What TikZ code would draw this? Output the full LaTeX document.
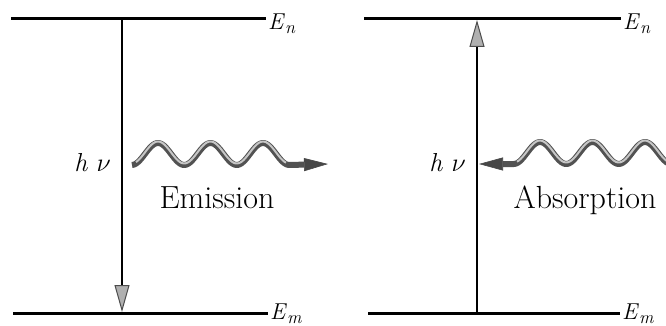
\RequirePackage{fix-cm}
\documentclass[tikz,border=0pt]{standalone}
\usetikzlibrary{arrows.meta}
\newcommand{\lvl}[2]{\textit{#1}\raisebox{-4pt}{\fontsize{18}{18}\selectfont\textit{#2}}}
\begin{document}
\begin{tikzpicture}[x=1pt,y=-1pt,
  level/.style={line width=3pt, line cap=butt},
  trans/.style={line width=2.8pt, -{Triangle[length=27pt,width=15pt,fill=gray!62,color=black!70,line width=1pt]}},
  wavebase/.style={line width=6pt, draw=black!68, line join=round,
     -{Triangle[length=24pt,width=13pt,fill=black!72,color=black!72,line width=0.6pt]}},
  wavebaserev/.style={line width=6pt, draw=black!68, line join=round,
     {Triangle[length=24pt,width=13pt,fill=black!72,color=black!72,line width=0.6pt]}-},
  waveshine/.style={line width=2pt, draw=gray!45, line join=round},
  elabel/.style={anchor=base west, inner sep=0pt, font=\fontsize{23}{23}\selectfont},
  hnu/.style={anchor=base east, inner sep=0pt, font=\fontsize{26}{26}\selectfont},
  word/.style={anchor=base, inner sep=0pt, font=\fontsize{32}{32}\selectfont}]
\useasboundingbox (0,0) rectangle (666,326);
\clip (0,0) rectangle (666,326);
\fill[white] (0,0) rectangle (666,326);

% ---- Emission panel ----
\coordinate (ltA) at (11,19);  \coordinate (ltB) at (266,19);
\coordinate (lbA) at (13,313); \coordinate (lbB) at (268,313);
\coordinate (lvT) at (122,19); \coordinate (lvB) at (122,312);
\draw[level] (ltA) -- (ltB);
\draw[level] (lbA) -- (lbB);
\node[elabel] (En1) at (268,30) {\lvl{E}{n}};
\node[elabel] (Em1) at (270,319) {\lvl{E}{m}};
\draw[trans] (lvT) -- (lvB);
\node[hnu] (hnu1) at (111,171) {\textit{h}\,\,$\nu$};
\coordinate (w1end) at (328,164);
\draw[wavebase] plot[domain=132:289, samples=90, smooth] (\x, {154-11*cos((\x-158)*6.857)}) -- (w1end);
\draw[waveshine] plot[domain=136:286, samples=90, smooth] (\x, {152.5-11*cos((\x-158)*6.857)});
\node[word] (em) at (217,208) {Emission};

% ---- Absorption panel ----
\coordinate (rtA) at (364,19);  \coordinate (rtB) at (621,19);
\coordinate (rbA) at (368,313); \coordinate (rbB) at (620,313);
\coordinate (rvB) at (477,313); \coordinate (rvT) at (477,20);
\draw[level] (rtA) -- (rtB);
\draw[level] (rbA) -- (rbB);
\node[elabel] (En2) at (623,30) {\lvl{E}{n}};
\node[elabel] (Em2) at (622,319) {\lvl{E}{m}};
\draw[trans] (rvB) -- (rvT);
\node[hnu] (hnu2) at (466,171) {\textit{h}\,\,$\nu$};
\coordinate (w2tip) at (479,164);
\draw[wavebaserev] (w2tip) -- plot[domain=513.75:690, samples=90, smooth] (\x, {153-11*cos((\x-540)*6.857)});
\draw[waveshine] plot[domain=517:690, samples=90, smooth] (\x, {151.5-11*cos((\x-540)*6.857)});
\node[word] (ab) at (585,208) {Absorption};
\end{tikzpicture}
\end{document}
